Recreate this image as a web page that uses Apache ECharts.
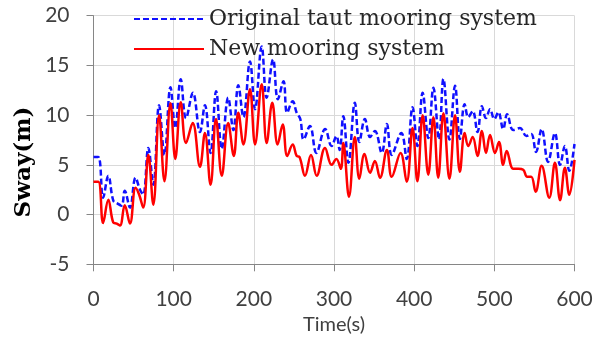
<!DOCTYPE html>
<html>
<head>
<meta charset="utf-8">
<script src="https://cdn.jsdelivr.net/npm/echarts@6/dist/echarts.min.js"></script>
<style>
  html, body { margin: 0; padding: 0; background: #fff; }
  #chart { width: 604px; height: 342px; }
</style>
</head>
<body>
<div id="chart"></div>
<script>
// Sway time histories (s, m): peaks and troughs of each record
const timeOriginal = [0, 6, 12, 18.5, 24.7, 30, 35, 39, 45.5, 52.5, 58, 62, 68.4, 74.6, 81.8, 88.5, 96, 102, 108.8, 115.4, 124, 132.8, 139, 146, 153, 160, 168, 174.5, 180.6, 187, 195.2, 201.5, 209.8, 216, 224, 230, 237, 241.5, 248.5, 253.4, 258, 262, 270, 278, 289, 297, 303, 307, 311.6, 318, 326, 331.6, 338.5, 345, 351, 359.5, 366, 372, 384, 390.7, 398, 404, 410.6, 417.6, 424, 431, 436.5, 444, 451, 457, 463, 467.5, 473, 479, 484.5, 489.6, 494.6, 500, 505, 511, 516, 523.6, 532, 540, 546, 552, 559, 567, 575.6, 582, 588, 593.5, 600];
const swayOriginal = [5.8, 5.8, 1.7, 3.9, 1.4, 1.1, 0.9, 2.4, 0.7, 3.7, 2.5, 2.0, 6.7, 3.0, 11.0, 6.0, 12.8, 8.7, 13.6, 9.7, 12.25, 8.3, 11.0, 6.2, 12.4, 6.6, 11.75, 8.5, 13.0, 9.8, 15.4, 10.6, 16.9, 11.75, 15.6, 11.6, 13.4, 10.25, 11.4, 10.25, 9.6, 7.55, 8.9, 6.2, 8.6, 6.9, 7.9, 6.5, 9.9, 5.2, 11.25, 7.3, 9.6, 7.8, 8.4, 6.2, 9.1, 6.0, 8.2, 5.6, 10.8, 6.9, 12.25, 7.7, 12.75, 7.55, 13.65, 7.55, 12.95, 7.6, 11.1, 9.8, 10.4, 8.3, 10.9, 9.7, 10.6, 9.6, 10.3, 8.6, 10.1, 8.5, 8.7, 7.9, 8.1, 6.3, 8.6, 5.3, 8.2, 5.0, 6.9, 4.4, 7.1];

const timeNew = [0, 6, 12, 18.5, 24.7, 29, 33, 39, 45.5, 52.5, 57, 62, 68.4, 74.6, 81.8, 88.5, 96, 102, 108.8, 115.4, 123.7, 132.8, 139, 146, 152.8, 160, 168, 175, 180.6, 187, 195.2, 201.5, 209.8, 216, 223, 229.7, 236, 241.7, 248.5, 253.4, 257, 263.8, 271.3, 278.4, 288.8, 297, 303, 308.5, 311.6, 318.7, 326, 331.6, 338, 345, 351, 357.4, 366, 372, 383, 390.7, 398, 404, 410.6, 417.6, 424, 430, 436.5, 444, 451, 457, 463, 467.5, 473, 479, 484.5, 489.6, 494.6, 500.8, 505.8, 511, 515.4, 523.6, 530, 536, 541, 546, 551.5, 559, 568.5, 575.6, 582, 588, 593.5, 600];
const swayNew = [3.3, 3.3, -0.85, 1.5, -0.8, -0.9, -1.1, 0.95, -0.9, 2.7, 2.0, 0.7, 6.0, 1.0, 10.0, 3.35, 11.2, 5.6, 11.3, 7.2, 9.2, 4.8, 8.2, 3.0, 9.6, 3.9, 9.2, 5.9, 10.25, 7.05, 12.6, 7.05, 13.1, 7.2, 11.25, 7.05, 9.06, 5.9, 7.05, 5.9, 5.8, 3.9, 6.0, 3.9, 6.7, 5.0, 5.6, 4.6, 7.2, 1.8, 7.8, 3.6, 6.1, 4.2, 5.4, 3.7, 6.5, 3.8, 6.2, 3.3, 8.7, 3.35, 10.0, 4.0, 9.8, 3.7, 10.2, 3.6, 10.0, 4.3, 8.2, 6.9, 7.8, 5.9, 8.4, 6.2, 8.0, 6.2, 7.3, 5.0, 6.4, 4.6, 4.6, 4.5, 3.8, 3.8, 2.3, 4.9, 1.7, 5.2, 1.45, 4.7, 2.0, 5.5];

const xTicks = { min: 0, max: 600, step: 100 };
const yTicks = { min: -5, max: 20, step: 5 };
const seriesNames = ['Original taut mooring system', 'New mooring system'];

const pairs = (ts, vs) => ts.map((t, i) => [t, vs[i]]);

const chart = echarts.init(document.getElementById('chart'), null, { renderer: 'canvas' });

const axisGray = '#868686';
const gridGray = '#d9d9d9';
const labelFont = { fontFamily: 'Lato', fontSize: 21, color: '#404040' };

chart.setOption({
  animation: false,
  backgroundColor: '#ffffff',
  grid: { left: 93.5, right: 29.5, top: 15.7, bottom: 77.7 },
  legend: {
    orient: 'vertical',
    left: 128,
    top: 3,
    itemWidth: 70,
    itemHeight: 14,
    itemGap: 8,
    // line samples only, no point marker
    itemStyle: { opacity: 0 },
    textStyle: { fontFamily: 'DejaVu Serif', fontSize: 22, color: '#262626' },
    data: seriesNames
  },
  xAxis: {
    type: 'value',
    min: xTicks.min, max: xTicks.max, interval: xTicks.step,
    name: 'Time(s)',
    nameLocation: 'middle',
    nameGap: 47,
    nameTextStyle: { fontFamily: 'Lato', fontSize: 20, color: '#404040' },
    axisLine: { onZero: false, lineStyle: { color: axisGray, width: 1 } },
    axisTick: { show: true, inside: false, length: 7, lineStyle: { color: axisGray } },
    axisLabel: Object.assign({ margin: 24 }, labelFont),
    splitLine: { show: true, lineStyle: { color: gridGray, width: 1 } }
  },
  yAxis: {
    type: 'value',
    min: yTicks.min, max: yTicks.max, interval: yTicks.step,
    axisLine: { show: true, lineStyle: { color: axisGray, width: 1 } },
    axisTick: { show: true, inside: false, length: 7, lineStyle: { color: axisGray } },
    axisLabel: Object.assign({ margin: 24 }, labelFont),
    splitLine: { show: true, lineStyle: { color: gridGray, width: 1 } }
  },
  graphic: [{
    type: 'text',
    x: 24, y: 162,
    rotation: Math.PI / 2,
    style: {
      text: 'Sway(m)',
      font: 'bold 23px "DejaVu Serif"',
      fill: '#000000',
      align: 'center',
      verticalAlign: 'middle'
    }
  }],
  series: [
    {
      name: seriesNames[0],
      type: 'line',
      data: pairs(timeOriginal, swayOriginal),
      showSymbol: false,
      symbol: 'none',
      smooth: 0.4,
      lineStyle: { color: '#1010ff', width: 2.5, type: [6, 3] },
      itemStyle: { color: '#1010ff' }
    },
    {
      name: seriesNames[1],
      type: 'line',
      data: pairs(timeNew, swayNew),
      showSymbol: false,
      symbol: 'none',
      smooth: 0.4,
      lineStyle: { color: '#ff0000', width: 2.5 },
      itemStyle: { color: '#ff0000' }
    }
  ]
});
</script>
</body>
</html>
